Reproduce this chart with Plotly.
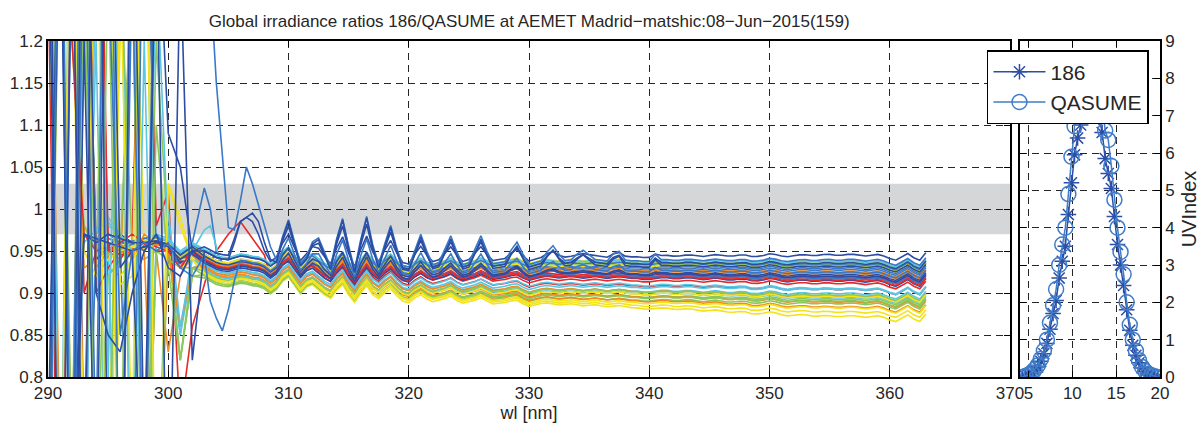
import numpy as np
import plotly.graph_objects as go

# ---------------- spectral ratio data (186 / QASUME) ----------------
# short-wave part, 1 nm steps, one row per scan
wl_noisy = [290, 291, 292, 293, 294, 295, 296, 297, 298, 299, 300, 301, 302]
# long-wave part on the 0.5 nm scan grid
wl_fine = np.round(np.arange(303.0, 363.0 + 0.25, 0.5), 1)

# common spectral structure of the ratio (middle of the bundle), 303..363 nm every 0.5 nm
core_ratio = [
    0.940, 0.936, 0.932, 0.930, 0.929, 0.931, 0.933, 0.932, 0.930, 0.929,
    0.926, 0.920, 0.925, 0.935, 0.940, 0.930, 0.920, 0.928, 0.931, 0.925,
    0.919, 0.915, 0.925, 0.932, 0.920, 0.911, 0.922, 0.931, 0.921, 0.916,
    0.923, 0.928, 0.920, 0.914, 0.912, 0.918, 0.922, 0.917, 0.914, 0.916,
    0.918, 0.921, 0.916, 0.913, 0.915, 0.917, 0.920, 0.916, 0.913, 0.914,
    0.915, 0.917, 0.918, 0.914, 0.911,
    0.913, 0.915, 0.916, 0.915, 0.914, 0.915, 0.916, 0.915, 0.914, 0.915,
    0.916, 0.915, 0.914, 0.915, 0.916, 0.915, 0.914, 0.914, 0.913, 0.913,
    0.914, 0.915, 0.915, 0.914, 0.914, 0.915, 0.915, 0.914, 0.913, 0.914,
    0.915, 0.914, 0.913, 0.913, 0.914, 0.914, 0.912, 0.912, 0.913, 0.915,
    0.914, 0.912, 0.911, 0.912, 0.913, 0.913, 0.912, 0.912, 0.913, 0.913,
    0.912, 0.912, 0.913, 0.913, 0.912, 0.911, 0.912, 0.913, 0.911, 0.908,
    0.906, 0.910, 0.914, 0.909, 0.906, 0.915,
]

# extra spikes seen on the low-sun (blue) scans
spike_wl = [309.5, 310.0, 310.5, 312.0, 312.5, 313.0, 314.0, 314.5, 315.0,
            316.0, 316.5, 317.0, 318.0, 318.5, 319.0, 320.5, 321.0, 321.5,
            323.0, 323.5, 324.0, 325.5, 326.0, 326.5, 328.5, 329.0, 329.5,
            331.5, 332.0, 332.5, 334.0, 334.5, 335.0, 337.0, 337.5, 340.5]
spike_amp = [0.018, 0.034, 0.016, 0.015, 0.026, 0.013, 0.024, 0.042, 0.020,
             0.025, 0.045, 0.020, 0.018, 0.036, 0.016, 0.015, 0.030, 0.014,
             0.014, 0.028, 0.013, 0.014, 0.028, 0.013, 0.012, 0.021, 0.010,
             0.010, 0.019, 0.009, 0.008, 0.014, 0.007, 0.008, 0.010, 0.008]

# short-wave ratios per scan (290..302 nm)
noisy_ratio = [
    [1.7, 0.3, 1.4, 0.5, 1.9, 0.6, 0.4, 1.5, 0.7, 1.35, 0.55, 1.3, 0.82],
    [0.5, 0.4, 0.6, 1.8, 1.4, 1.3, 0.85, 0.95, 0.96, 0.95, 0.96, 0.93, 0.92],
    [1.5, 0.4, 1.7, 0.7, 1.2, 0.5, 1.45, 0.6, 1.6, 0.5, 0.98, 0.85, 0.93],
    [0.6, 1.5, 0.5, 1.3, 0.9, 1.6, 0.45, 1.4, 0.6, 1.2, 0.96, 0.82, 0.92],
    [1.5, 1.6, 1.3, 0.6, 0.5, 0.7, 1.2, 1.45, 0.95, 0.96, 0.95, 0.93, 0.94],
    [0.6, 0.5, 0.5, 1.7, 1.6, 0.93, 0.92, 1.3, 0.5, 0.95, 0.83, 0.92, 0.945],
    [1.3, 0.4, 1.5, 0.7, 1.4, 0.95, 0.94, 0.96, 1.5, 0.98, 1.02, 0.75, 0.86],
    [0.7, 1.5, 0.4, 1.2, 0.6, 1.6, 0.93, 0.95, 0.6, 1.4, 1.09, 1.05, 0.95],
    [1.6, 1.5, 1.4, 0.6, 0.5, 0.95, 0.96, 0.5, 1.5, 0.95, 0.96, 0.94, 0.96],
    [0.5, 1.7, 1.6, 1.5, 0.95, 0.97, 0.4, 0.4, 0.6, 0.96, 0.95, 0.85, 0.95],
    [1.4, 1.5, 1.5, 0.5, 0.4, 0.6, 1.3, 0.95, 0.94, 0.95, 0.96, 0.82, 0.92],
    [0.6, 0.5, 0.4, 1.6, 1.7, 1.4, 0.91, 0.92, 1.5, 0.6, 1.03, 0.99, 0.94],
    [1.5, 0.7, 0.6, 0.5, 1.6, 0.94, 0.95, 0.96, 0.95, 0.6, 0.95, 0.93, 0.95],
    [1.4, 1.6, 1.5, 0.9, 0.95, 0.955, 0.95, 0.952, 0.955, 0.958, 0.955, 0.94, 0.952],
    [0.5, 0.4, 0.7, 0.97, 0.96, 0.97, 0.965, 0.96, 0.96, 0.962, 0.958, 0.945, 0.955],
    [1.3, 1.5, 1.4, 0.5, 0.96, 0.97, 0.96, 0.958, 0.962, 0.965, 0.96, 0.945, 0.955],
    [0.6, 0.5, 0.5, 1.2, 0.97, 0.99, 0.97, 0.96, 0.965, 0.97, 0.965, 0.95, 0.96],
    [1.6, 1.5, 1.3, 0.98, 0.95, 0.945, 0.95, 0.955, 0.958, 0.96, 0.955, 0.94, 0.952],
    [0.4, 1.5, 1.6, 1.3, 0.97, 0.96, 0.955, 0.96, 0.962, 0.964, 0.96, 0.945, 0.955],
    [1.5, 1.4, 1.2, 0.93, 0.94, 0.95, 0.955, 0.95, 0.955, 0.958, 0.954, 0.94, 0.95],
    [0.6, 0.5, 0.5, 1.5, 0.9, 0.93, 0.95, 0.945, 0.96, 0.955, 0.95, 0.935, 0.948],
    [1.4, 0.5, 0.6, 0.97, 0.965, 0.96, 0.955, 0.95, 0.955, 0.96, 0.955, 0.94, 0.95],
    [0.7, 0.6, 1.3, 1.4, 0.96, 0.965, 0.96, 0.962, 0.965, 0.967, 0.962, 0.947, 0.957],
    [1.5, 1.6, 1.4, 0.96, 0.975, 0.985, 0.965, 0.96, 0.962, 0.968, 0.962, 0.948, 0.958],
    [0.5, 0.4, 0.7, 0.98, 0.96, 0.95, 0.955, 0.96, 0.96, 0.962, 0.958, 0.943, 0.953],
    [1.3, 1.5, 1.5, 0.95, 0.92, 0.94, 0.95, 0.955, 0.962, 0.96, 0.958, 0.944, 0.954],
    [0.6, 1.4, 1.5, 1.3, 0.95, 0.96, 0.95, 0.945, 0.955, 0.96, 0.953, 0.938, 0.95],
    [1.6, 1.5, 1.2, 0.97, 0.95, 0.955, 0.945, 0.95, 0.958, 0.962, 0.952, 0.938, 0.948],
    [0.5, 0.6, 0.6, 1.5, 0.94, 0.955, 0.97, 0.96, 0.955, 0.96, 0.952, 0.936, 0.946],
    [0.5, 0.6, 0.6, 1.4, 1.5, 0.95, 0.96, 0.96, 0.95, 0.97, 0.95, 0.93, 0.95],
    [1.4, 1.5, 1.6, 0.6, 1.3, 0.98, 0.97, 0.95, 0.6, 1.3, 0.96, 0.94, 0.94],
    [0.6, 1.6, 1.5, 1.3, 0.6, 0.92, 0.94, 1.3, 0.5, 0.95, 0.94, 0.93, 0.93],
    [1.6, 1.4, 1.4, 0.7, 0.5, 0.5, 0.92, 0.94, 0.96, 0.95, 0.96, 0.94, 0.94],
    [0.5, 0.4, 0.7, 1.5, 0.93, 0.95, 0.96, 0.94, 0.97, 0.96, 0.95, 0.86, 0.93],
    [1.5, 1.6, 1.4, 0.5, 1.7, 0.95, 0.96, 0.97, 0.96, 0.95, 0.95, 0.93, 0.95],
    [0.6, 1.4, 0.5, 1.6, 0.9, 0.85, 0.83, 0.9, 0.95, 0.97, 0.93, 0.92, 0.95],
    [0.4, 1.6, 0.5, 1.4, 0.7, 1.8, 0.5, 1.3, 0.6, 1.5, 1.6, 1.4, 1.8],
    [1.6, 0.6, 1.5, 0.4, 1.7, 0.8, 1.4, 0.5, 1.2, 0.6, 1.0, 0.86, 0.94],
    [0.5, 1.4, 0.7, 1.6, 0.5, 1.3, 0.6, 1.5, 0.5, 1.1, 0.93, 0.82, 0.93],
    [1.4, 0.5, 1.6, 0.6, 1.5, 0.4, 1.3, 0.7, 1.7, 0.5, 1.03, 0.98, 0.94],
]

# level of each scan at 303, 330 and 355 nm
level_wl = [303.0, 330.0, 355.0]
level_303 = [0.950, 0.945, 0.935, 0.922, 0.926, 0.930, 0.940, 0.955, 0.945, 0.932,
             0.918, 0.922, 0.930, 0.942, 0.944, 0.946, 0.952, 0.945, 0.950, 0.942,
             0.940, 0.938, 0.950, 0.952, 0.944, 0.946, 0.940, 0.938, 0.936, 0.940,
             0.928, 0.920, 0.925, 0.932, 0.940, 0.950, 0.952, 0.934, 0.926, 0.924]
level_330 = [0.928, 0.923, 0.900, 0.890, 0.886, 0.891, 0.907, 0.938, 0.925, 0.904,
             0.894, 0.884, 0.895, 0.912, 0.920, 0.927, 0.932, 0.932, 0.935, 0.924,
             0.917, 0.919, 0.931, 0.934, 0.929, 0.928, 0.922, 0.919, 0.915, 0.917,
             0.898, 0.893, 0.888, 0.901, 0.916, 0.931, 0.934, 0.908, 0.900, 0.897]
level_355 = [0.932, 0.925, 0.900, 0.888, 0.878, 0.884, 0.905, 0.946, 0.928, 0.905,
             0.893, 0.873, 0.890, 0.912, 0.922, 0.930, 0.935, 0.936, 0.938, 0.926,
             0.918, 0.920, 0.934, 0.938, 0.933, 0.932, 0.924, 0.920, 0.915, 0.918,
             0.895, 0.891, 0.883, 0.897, 0.916, 0.936, 0.940, 0.906, 0.898, 0.896]

# how strongly each scan shows the spike pattern
spike_weight = [1.0, 0.55, 0, 0, 0, 0, 0, 0.35, 0, 0,
                0, 0, 0, 0, 0.25, 0, 0, 0, 0, 0,
                0, 0.2, 0, 0, 0, 0, 0, 0, 0, 0,
                0, 0, 0, 0, 0, 0.8, 0.95, 0, 0, 0]

# individual excursions just above 303 nm
detours = {
    0: [(305.0, 0.94), (305.5, 0.96), (306.0, 0.985), (306.5, 0.99), (307.0, 0.995),
        (307.5, 0.985), (308.0, 0.96), (308.5, 0.94)],
    1: [(303.5, 0.89), (304.0, 0.87), (304.5, 0.855), (305.0, 0.88), (305.5, 0.915)],
    6: [(303.0, 0.91), (303.5, 0.935), (304.0, 0.95), (304.5, 0.96), (305.0, 0.97),
        (305.5, 0.978), (306.0, 0.985), (306.5, 0.975), (307.0, 0.965), (307.5, 0.955),
        (308.0, 0.945)],
    7: [(305.5, 0.965), (306.0, 0.985), (306.5, 0.99), (307.0, 0.985), (307.5, 0.97),
        (308.0, 0.95)],
    8: [(303.0, 1.025), (303.5, 1.0), (304.0, 0.95)],
    9: [(303.0, 0.975), (303.5, 0.98), (304.0, 0.955)],
    36: [(303.0, 1.45), (303.5, 1.27), (304.0, 1.15), (304.5, 1.06), (305.0, 0.978),
         (305.5, 0.975), (306.0, 1.01), (306.5, 1.05), (307.0, 1.03), (307.5, 1.005),
         (308.0, 0.98), (308.5, 0.955)],
}

# ---------------- UV index over the day ----------------
uv_hours = [4.30, 4.65, 5.00, 5.35, 5.70, 6.05, 6.40, 6.75, 7.10, 7.45,
            7.80, 8.15, 8.50, 8.85, 9.20, 9.55, 9.90, 10.25, 10.60, 10.95,
            11.30, 11.65, 12.00, 12.35, 12.70, 13.05, 13.40, 13.75, 14.10, 14.45,
            14.80, 15.15, 15.50, 15.85, 16.20, 16.55, 16.90, 17.25, 17.60, 17.95,
            18.30, 18.65, 19.00, 19.35, 19.70]
uv_186 = [0.00, 0.02, 0.05, 0.10, 0.17, 0.27, 0.42, 0.62, 0.90, 1.28,
          1.70, 2.05, 2.65, 3.10, 3.50, 4.35, 5.20, 5.95, 6.40, 6.75,
          7.05, 7.25, 7.35, 7.30, 7.15, 6.95, 6.55, 5.85, 5.45, 5.05,
          4.30, 3.55, 3.00, 2.45, 1.80, 1.25, 0.85, 0.58, 0.38, 0.24,
          0.14, 0.08, 0.04, 0.02, 0.00]
uv_qasume = [0.00, 0.03, 0.06, 0.12, 0.20, 0.31, 0.48, 0.70, 1.00, 1.45,
             1.92, 2.35, 3.00, 3.55, 4.00, 4.90, 5.90, 6.72, 7.15, 7.55,
             7.90, 8.10, 8.20, 8.15, 8.00, 7.75, 7.30, 6.60, 6.35, 5.65,
             4.75, 4.00, 3.35, 2.75, 2.00, 1.40, 1.00, 0.70, 0.45, 0.27,
             0.16, 0.09, 0.05, 0.02, 0.00]

# reference band around a ratio of 1
band_low, band_high = 0.97, 1.03

palette = ['#2c4da3', '#3a79c7', '#5bc6e4', '#8bc75a', '#f2e31b', '#f3881f', '#e7292a']
grid_col = '#262626'
txt_col = '#262626'

core = np.array(core_ratio)
spike = np.zeros_like(core)
for w, a in zip(spike_wl, spike_amp):
    spike[np.isclose(wl_fine, w)] = a
core_at_levels = [core[np.isclose(wl_fine, w)][0] for w in level_wl]

fig = go.Figure()

n_scans = len(noisy_ratio)
draw_order = sorted(range(n_scans), key=lambda k: spike_weight[k])
for i in draw_order:
    offs = [level_303[i] - core_at_levels[0],
            level_330[i] - core_at_levels[1],
            level_355[i] - core_at_levels[2]]
    fine = core + np.interp(wl_fine, level_wl, offs) + spike_weight[i] * spike
    for w, v in detours.get(i, []):
        fine[np.isclose(wl_fine, w)] = v
    fig.add_trace(go.Scatter(
        x=list(wl_noisy) + list(wl_fine), y=list(noisy_ratio[i]) + list(fine),
        mode='lines', line=dict(color=palette[i % 7], width=1.6),
        showlegend=False, hoverinfo='skip', xaxis='x', yaxis='y'))

fig.add_trace(go.Scatter(
    x=uv_hours, y=uv_186, name='186', mode='lines+markers',
    line=dict(color='#2d4ea6', width=1.5),
    marker=dict(symbol='asterisk-open', size=13, line=dict(color='#2d4ea6', width=1.5)),
    xaxis='x2', yaxis='y2'))
fig.add_trace(go.Scatter(
    x=uv_hours, y=uv_qasume, name='QASUME', mode='lines+markers',
    line=dict(color='#3f7dc9', width=1.5),
    marker=dict(symbol='circle-open', size=15, line=dict(color='#3f7dc9', width=1.5)),
    xaxis='x2', yaxis='y2'))

fig.add_shape(type='rect', xref='x', yref='y', x0=290, x1=370, y0=band_low, y1=band_high,
              fillcolor='#d5d6d8', line=dict(width=0), layer='below')

axis_common = dict(showline=True, linecolor='black', linewidth=1.5, mirror='ticks',
                   ticks='inside', ticklen=6, tickcolor='black',
                   showgrid=True, gridcolor=grid_col, gridwidth=1, griddash='7px,5px',
                   zeroline=False, automargin=False,
                   tickfont=dict(size=17, color=txt_col))

y_ticks = [0.8, 0.85, 0.9, 0.95, 1.0, 1.05, 1.1, 1.15, 1.2]
y_text = ['0.8', '0.85', '0.9', '0.95', '1', '1.05', '1.1', '1.15', '1.2']

fig.update_layout(
    width=1200, height=424,
    margin=dict(l=48, r=40, t=41, b=47),
    paper_bgcolor='white', plot_bgcolor='white',
    font=dict(family='Liberation Sans, Arial, sans-serif', size=17, color=txt_col),
    title=dict(text='Global irradiance ratios 186/QASUME at AEMET Madrid\u2212matshic:08\u2212Jun\u22122015(159)',
               x=0.441, xanchor='center', xref='container',
               y=0.951, yanchor='middle', yref='container',
               font=dict(size=17, color=txt_col)),
    xaxis=dict(domain=[0, 0.8651], range=[290, 370], tickvals=list(range(290, 371, 10)),
               anchor='y', title=dict(text='wl [nm]', font=dict(size=18), standoff=2),
               **axis_common),
    yaxis=dict(domain=[0, 1], range=[0.8, 1.2], tickvals=y_ticks, ticktext=y_text,
               anchor='x', **axis_common),
    xaxis2=dict(domain=[0.8741, 1], range=[4.03, 20], tickvals=[5, 10, 15, 20],
                anchor='y2', **axis_common),
    yaxis2=dict(domain=[0, 1], range=[0, 9], tickvals=list(range(0, 10)), anchor='x2',
                side='right', title=dict(text='UVIndex', font=dict(size=20), standoff=10),
                **axis_common),
    legend=dict(x=0.8444, y=0.973, xanchor='left', yanchor='top',
                bgcolor='white', bordercolor='black', borderwidth=1.5,
                itemwidth=52,
                font=dict(size=21, color=txt_col), tracegroupgap=0),
)

fig.write_html('out.html')
